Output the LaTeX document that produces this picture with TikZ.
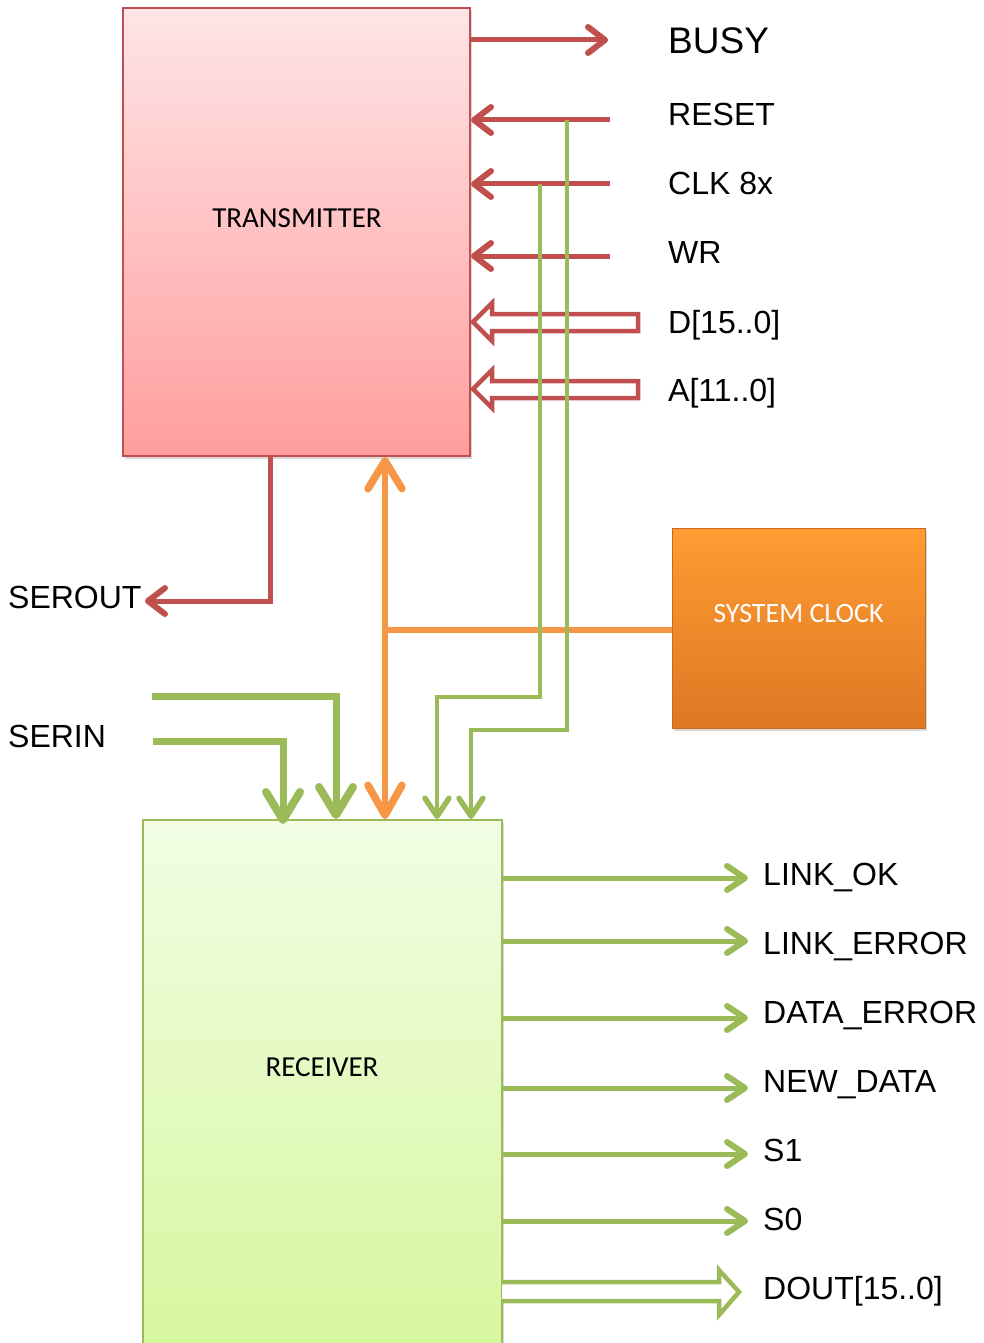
\documentclass[tikz,border=0pt]{standalone}
\usepackage{fontspec}
\setmainfont{Liberation Sans}
\newfontfamily\calib{Carlito}
\usetikzlibrary{arrows.meta,shadows}
\definecolor{redl}{HTML}{C0504D}
\definecolor{grnl}{HTML}{9BBB59}
\definecolor{orgl}{HTML}{F79646}
\begin{document}
\begin{tikzpicture}[x=1pt,y=-1pt,
  sig/.style={font=\fontsize{32}{36}\selectfont, anchor=base west, inner sep=0pt},
  boxlbl/.style={font=\calib\fontsize{29}{32}\selectfont, anchor=base, inner sep=0pt},
  boxshadow/.style={drop shadow={opacity=0.3,shadow xshift=2pt,shadow yshift=-3pt}},
  redarr/.style={draw=redl, line width=5pt, -{Straight Barb[length=17pt,width=26pt,round,line width=6pt]}},
  redbus/.style={draw=redl, line width=4.5pt, fill=white, line join=miter},
  grnthin/.style={draw=grnl, line width=4.5pt, line join=miter, -{Straight Barb[length=18pt,width=24pt,round,line width=5.5pt]}},
  grnthick/.style={draw=grnl, line width=7pt, line join=miter, -{Straight Barb[length=28pt,width=34pt,round,line width=8pt]}},
  grnout/.style={draw=grnl, line width=5pt, -{Straight Barb[length=18pt,width=24pt,round,line width=6pt]}},
  grnbus/.style={draw=grnl, line width=4.5pt, fill=white, line join=miter},
  orgarr/.style={draw=orgl, line width=6.5pt, {Straight Barb[length=28pt,width=34pt,round,line width=7.5pt]}-{Straight Barb[length=30pt,width=34pt,round,line width=7.5pt]}},
  orgline/.style={draw=orgl, line width=6.5pt}
]
\useasboundingbox (0,0) rectangle (984,1343);

% boxes
\node[boxshadow, draw=redl, line width=2pt, top color={rgb,255:red,255;green,229;blue,231}, bottom color={rgb,255:red,255;green,158;blue,158},
  minimum width=347pt, minimum height=448pt, inner sep=0pt] (tx) at (296.5,232) {};
\node[boxlbl] (txl) at (297,227) {TRANSMITTER};

\node[boxshadow, draw=grnl, line width=2pt, top color={rgb,255:red,242;green,253;blue,228}, bottom color={rgb,255:red,214;green,247;blue,158},
  minimum width=359pt, minimum height=530pt, inner sep=0pt] (rx) at (322.5,1085) {};
\node[boxlbl] (rxl) at (322,1076) {RECEIVER};

\node[boxshadow, draw={rgb,255:red,200;green,105;blue,30}, line width=1pt, top color={rgb,255:red,255;green,156;blue,50}, bottom color={rgb,255:red,222;green,120;blue,36},
  minimum width=253pt, minimum height=200pt, inner sep=0pt] (clk) at (798.5,628) {};
\node[boxlbl, text=white, font=\calib\fontsize{28}{32}\selectfont] (clkl) at (798.5,622) {SYSTEM CLOCK};

% labels
\node[sig, font=\fontsize{37}{40}\selectfont] (busy) at (668,54) {BUSY};
\node[sig] (reset) at (668,126) {RESET};
\node[sig] (clk8) at (668,194) {CLK 8x};
\node[sig] (wr) at (668,263) {WR};
\node[sig] (dl) at (668,333) {D[15..0]};
\node[sig] (al) at (668,401) {A[11..0]};
\node[sig] (serout) at (8,608) {SEROUT};
\node[sig] (serin) at (8,747) {SERIN};
\node[sig] (lok) at (763,885) {LINK\_OK};
\node[sig] (lerr) at (763,954) {LINK\_ERROR};
\node[sig] (derr) at (763,1023) {DATA\_ERROR};
\node[sig] (nd) at (763,1092) {NEW\_DATA};
\node[sig] (s1) at (763,1161) {S1};
\node[sig] (s0) at (763,1230) {S0};
\node[sig] (dout) at (763,1299) {DOUT[15..0]};

% coordinates for free ends
\coordinate (busyE) at (608,40);
\coordinate (resetE) at (610,120);
\coordinate (clkE) at (610,184);
\coordinate (wrE) at (610,256);
\coordinate (seroutE) at (145,601);
\coordinate (serinA) at (152,696);
\coordinate (serinB) at (153,741);

% red arrows
\draw[redarr] (tx.east |- busyE) -- (busyE);
\draw[redarr] (resetE) -- (tx.east |- resetE);
\draw[redarr] (clkE) -- (tx.east |- clkE);
\draw[redarr] (wrE) -- (tx.east |- wrE);
\draw[redbus] (473,322) -- (492,303) -- (492,314) -- (638,314) -- (638,331) -- (492,331) -- (492,341) -- cycle;
\draw[redbus] (473,389) -- (492,370) -- (492,381) -- (638,381) -- (638,398) -- (492,398) -- (492,408) -- cycle;
\draw[redarr, line join=miter] (tx.south -| 270,0) -- (270,601) -- (seroutE);

% orange
\draw[orgline] (385,630) -- (clk.west |- 0,630);
\draw[orgarr] (tx.south -| 385,0) -- (rx.north -| 385,0);

% green inputs
\draw[grnthin] (567,120) -- (567,730) -- (471,730) -- (rx.north -| 471,0);
\draw[grnthin] (540,184) -- (540,697) -- (437,697) -- (rx.north -| 437,0);
\draw[grnthick] (serinA) -- (336,696) -- (rx.north -| 336,0);
\draw[grnthick] (serinB) -- (283,741) -- (283,824);

% green outputs
\foreach \yy/\nm in {878/lok,941/lerr,1018/derr,1088/nd,1154/s1,1221/s0}{
  \draw[grnout] (rx.east |- 0,\yy) -- (748,\yy);
}
\draw[grnbus] (502,1282) -- (719,1282) -- (719,1270) -- (739,1292) -- (719,1315) -- (719,1301) -- (502,1301);
\end{tikzpicture}
\end{document}
